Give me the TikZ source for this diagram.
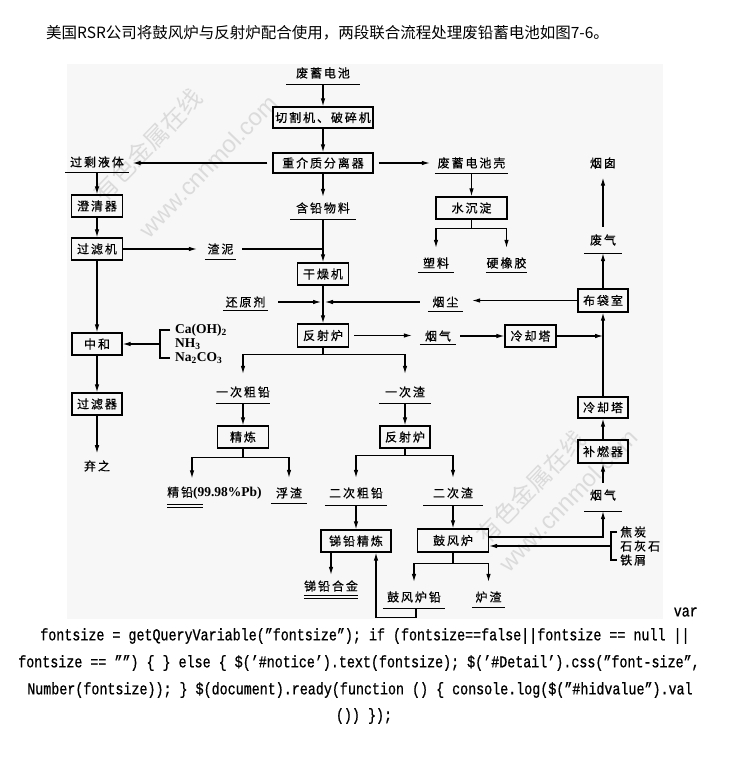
\documentclass[tikz,border=0pt]{standalone}
\usepackage{fontspec}
\setmainfont{Noto Sans CJK SC}
\newfontfamily\cjk[LetterSpace=16,FakeBold=0.5]{Noto Sans CJK SC}
\newfontfamily\hdfont{Noto Sans CJK SC}
\newfontfamily\chemfont{Liberation Serif}
\newfontfamily\codefont[FakeStretch=0.8,FakeBold=0.8]{Liberation Mono}
\newfontfamily\wmfont{Liberation Sans}
\usetikzlibrary{arrows.meta}
\begin{document}
\begin{tikzpicture}[x=1pt,y=-1pt,
  box/.style={draw, line width=1.4pt, inner sep=0pt, minimum height=22pt, font=\cjk\fontsize{12}{14}\selectfont},
  lab/.style={inner sep=0pt, font=\cjk\fontsize{12}{14}\selectfont},
  chem/.style={inner sep=0pt, anchor=west, text height=9pt, text depth=3pt, font=\chemfont\bfseries\fontsize{13.5}{15}\selectfont},
  ln/.style={line width=1.1pt},
  arr/.style={line width=1.1pt, -{Latex[length=8pt,width=4.6pt]}},
  uline/.style={line width=1pt},
  code/.style={inner sep=0pt, font=\codefont\fontsize{16.7}{18}\selectfont},
  wm/.style={inner sep=0pt, text=black!14, rotate=46}
]
\useasboundingbox (0,0) rectangle (730,765);
\fill[white] (0,0) rectangle (730,765);
\fill[black!3] (67,64) rectangle (663,619);

% header
\node[anchor=west, inner sep=0pt, font=\hdfont\fontsize{15.5}{18}\selectfont] (hdr) at (46,33) {美国RSR公司将鼓风炉与反射炉配合使用，两段联合流程处理废铅蓄电池如图7-6。};

% watermarks
\node[wm, font=\hdfont\fontsize{24}{24}\selectfont] (wm1) at (148,145) {有色金属在线};
\node[wm, font=\wmfont\fontsize{24}{24}\selectfont] (wm2) at (208,166) {www.cnnmol.com};
\node[wm, font=\hdfont\fontsize{24}{24}\selectfont] (wm3) at (531,487) {有色金属在线};
\node[wm, font=\wmfont\fontsize{24}{24}\selectfont] (wm4) at (568,500) {www.cnnmol.com};

% boxes
\node[box, minimum width=100pt, minimum height=21pt] (bcut) at (323,117.5) {切割机、破碎机};
\node[box, minimum width=100pt, minimum height=20pt] (bsep) at (323,163) {重介质分离器};
\node[box, minimum width=51pt] (bclar) at (97,206) {澄清器};
\node[box, minimum width=51pt] (bfilt1) at (97,249) {过滤机};
\node[box, minimum width=50pt] (bneu) at (97,344) {中和};
\node[box, minimum width=50pt] (bfilt2) at (97,404) {过滤器};
\node[box, minimum width=51pt] (bdry) at (323,274) {干燥机};
\node[box, minimum width=51pt, minimum height=23pt] (bref) at (323,335.5) {反射炉};
\node[box, minimum width=71pt] (bwat) at (471.5,208) {水沉淀};
\node[box, minimum width=51pt] (bcool1) at (530.5,336) {冷却塔};
\node[box, minimum width=50pt, minimum height=23pt] (bbag) at (603,300.5) {布袋室};
\node[box, minimum width=50pt, minimum height=21pt] (bcool2) at (603,407.5) {冷却塔};
\node[box, minimum width=50pt, minimum height=23pt] (bburn) at (603,451.5) {补燃器};
\node[box, minimum width=51pt] (brefine) at (243,437) {精炼};
\node[box, minimum width=50pt] (bref2) at (405,437) {反射炉};
\node[box, minimum width=70pt] (bsbref) at (356,541) {锑铅精炼};
\node[box, minimum width=71pt, minimum height=23pt] (bblast) at (453,540.5) {鼓风炉};

% labels
\node[lab, minimum width=73pt, minimum height=22pt] (lwaste) at (323,73) {废蓄电池};
\node[lab, minimum width=63pt, minimum height=20pt] (lexcess) at (97,162) {过剩液体};
\node[lab, minimum width=73pt, minimum height=20pt] (lshell) at (471.5,163) {废蓄电池壳};
\node[lab, minimum width=65pt, minimum height=22pt] (lpbmat) at (323,208) {含铅物料};
\node[lab, minimum width=31pt, minimum height=20pt] (lsludge) at (220.5,249) {渣泥};
\node[lab, minimum width=36pt, minimum height=18pt] (lplastic) at (436,263) {塑料};
\node[lab, minimum width=41pt, minimum height=18pt] (lrubber) at (506.5,263) {硬橡胶};
\node[lab, minimum width=45pt, minimum height=16pt] (lred) at (245.5,302) {还原剂};
\node[lab, minimum width=35pt, minimum height=18pt] (ldust) at (445.5,302) {烟尘};
\node[lab, minimum width=36pt, minimum height=16pt] (lfume1) at (438,336) {烟气};
\node[lab, minimum width=37pt, minimum height=26pt] (lexh) at (603,240) {废气};
\node[lab] (lchim) at (603,163) {烟囱};
\node[lab, minimum width=52pt, minimum height=22pt] (lpb1) at (243,392) {一次粗铅};
\node[lab, minimum width=52pt, minimum height=22pt] (lslag1) at (405,392) {一次渣};
\node[lab, anchor=west, minimum height=23pt] (lpure) at (167,493) {精铅{\chemfont\bfseries\fontsize{13.5}{16}\selectfont(99.98\%Pb)}};
\node[lab, minimum width=36pt, minimum height=20pt] (ldross) at (289,493) {浮渣};
\node[lab, minimum width=62pt, minimum height=24pt] (lpb2) at (356,493) {二次粗铅};
\node[lab, minimum width=59pt, minimum height=24pt] (lslag2) at (453,493) {二次渣};
\node[lab, minimum width=54pt, minimum height=18pt] (lsballoy) at (331,586) {锑铅合金};
\node[lab, minimum width=62pt, minimum height=22pt] (lblpb) at (414,597) {鼓风炉铅};
\node[lab, minimum width=33pt, minimum height=20pt] (lbslag) at (488.5,597) {炉渣};
\node[lab, minimum width=37pt, minimum height=32pt] (lfume2) at (603,495) {烟气};
\node[lab] (ldiscard) at (97,466) {弃之};

% chemical inputs
\node[chem] (ca) at (175,330) {Ca(OH)\textsubscript{2}};
\node[chem] (nh) at (175,344) {NH\textsubscript{3}};
\node[chem] (na) at (175,358) {Na\textsubscript{2}CO\textsubscript{3}};
\node[lab, anchor=west] (jt) at (620,532) {焦炭};
\node[lab, anchor=west] (sh) at (620,546) {石灰石};
\node[lab, anchor=west] (tx) at (620,560) {铁屑};

% underlines
\foreach \n in {lwaste,lexcess,lshell,lpbmat,lsludge,lplastic,lrubber,lred,ldust,lfume1,lexh,lpb1,lslag1,ldross,lpb2,lslag2,lblpb,lbslag,lfume2}
  \draw[uline] (\n.south west) -- (\n.south east);
\draw[uline] (lpure.south west) -- ++(36,0);
\draw[uline] ([yshift=-3pt]lpure.south west) -- ++(36,0);
\draw[uline] (lsballoy.south west) -- (lsballoy.south east);
\draw[uline] ([yshift=-3pt]lsballoy.south west) -- ([yshift=-3pt]lsballoy.south east);

% main column
\draw[arr] (lwaste.south) -- (bcut.north);
\draw[arr] (bcut.south) -- (bsep.north);
\draw[arr, shorten <=5pt, shorten >=4pt] (bsep.west) -- (bsep.west -| lexcess.east);
\draw[arr, shorten <=5pt, shorten >=5pt] (bsep.east) -- (bsep.east -| lshell.west);
\draw[arr] (bsep.south) -- (lpbmat.north);
\draw[arr] (lpbmat.south) -- (bdry.north);
\draw[arr] (bdry.south) -- (bref.north);

% left column
\draw[arr] (lexcess.south) -- (bclar.north);
\draw[arr] (bclar.south) -- (bfilt1.north);
\draw[arr] (bfilt1.south) -- (bneu.north);
\draw[arr] (bneu.south) -- (bfilt2.north);
\draw[arr, shorten >=7pt] (bfilt2.south) -- (ldiscard.north);
\draw[arr, shorten >=8pt] (bfilt1.east) -- (bfilt1.east -| lsludge.west);
\draw[ln, shorten <=6pt] (lsludge.east) -- (lsludge.east -| bdry.north);

% chemicals bracket
\draw[ln] ([xshift=-5pt]ca.west) -| ([xshift=-15pt]na.west) -- ([xshift=-5pt]na.west);
\coordinate (brk1) at ([xshift=-15pt]nh.west);
\draw[arr] (brk1) -- (brk1 -| bneu.east);

% reducing agent and dust
\coordinate (mix) at (bref.north |- lred.east);
\draw[arr, shorten <=10pt, shorten >=2pt] (lred.east) -- (mix);
\draw[arr, shorten <=8pt, shorten >=2pt] (ldust.west) -- (mix);
\draw[arr, shorten >=9pt] (bbag.west) -- (bbag.west -| ldust.east);

% shell branch
\draw[arr] (lshell.south) -- (bwat.north);
\draw[ln] (bwat.south) -- ++(0,9) coordinate (wj);
\draw[arr, shorten >=6pt] (wj) -| (lplastic.north);
\draw[arr, shorten >=6pt] (wj) -| (lrubber.north);

% gas line
\draw[arr, shorten <=5pt, shorten >=8pt] (bref.east) -- (bref.east -| lfume1.west);
\draw[arr, shorten <=4pt] (lfume1.east) -- (bcool1.west);
\draw[arr] (bcool1.east) -- (bcool1.east -| bbag.south);
\draw[arr] (bcool2.north) -- (bbag.south);
\draw[arr] (bburn.north) -- (bcool2.south);
\draw[arr] (bbag.north) -- (lexh.south);
\draw[arr, shorten >=9pt] (lexh.north) -- (lchim.south);
\draw[arr] ([yshift=-4pt]lfume2.north) -- (bburn.south);

% reverberatory furnace fork
\draw[ln] (bref.south) -- ++(0,7) coordinate (rj);
\draw[arr, shorten >=7pt] (rj) -| (lpb1.north);
\draw[arr, shorten >=7pt] (rj) -| (lslag1.north);
\draw[arr] (lpb1.south) -- (brefine.north);
\draw[arr] (lslag1.south) -- (bref2.north);

% refining fork
\draw[ln] (brefine.south) -- ++(0,9) coordinate (fj);
\draw[arr, shorten >=3pt] (fj) -| ([xshift=25pt]lpure.north west);
\draw[arr, shorten >=5pt] (fj) -| (ldross.north);

% second reverberatory fork
\draw[ln] (bref2.south) -- ++(0,7) coordinate (sj);
\draw[arr, shorten >=3pt] (sj) -| (lpb2.north);
\draw[arr, shorten >=3pt] (sj) -| (lslag2.north);
\draw[arr] (lpb2.south) -- (bsbref.north);
\draw[arr] (lslag2.south) -- (bblast.north);
\draw[arr, shorten >=2pt] (bsbref.south -| lsballoy.north) -- (lsballoy.north);

% blast furnace fork
\draw[ln] (bblast.south) -- ++(0,11) coordinate (bj);
\draw[arr, shorten >=4pt] (bj) -| (lblpb.north);
\draw[arr, shorten >=5pt] (bj) -| (lbslag.north);
\draw[arr] ([xshift=2pt]lblpb.south) -- ++(0,9) -| ([xshift=20pt]bsbref.south);

% blast furnace gas and charge
\draw[arr] ([yshift=3.5pt]bblast.east) -| (lfume2.south);
\draw[ln] ([xshift=-3pt]jt.west) -| ([xshift=-9pt]tx.west) -- ([xshift=-3pt]tx.west);
\coordinate (brk2) at ([xshift=-9pt]sh.west);
\draw[arr] (brk2) -- (brk2 -| bblast.east);

% page text below
\node[code, anchor=east] (cvar) at (698,612) {var};
\node[code] (c1) at (365,636) {fontsize = getQueryVariable(”fontsize”); if (fontsize==false||fontsize == null ||};
\node[code] (c2) at (359,663) {fontsize == ””) \{ \} else \{ \$(’\#notice’).text(fontsize); \$(’\#Detail’).css(”font-size”,};
\node[code] (c3) at (360,690) {Number(fontsize)); \} \$(document).ready(function () \{ console.log(\$(”\#hidvalue”).val};
\node[code] (c4) at (364,716) {()) \});};
\end{tikzpicture}
\end{document}
